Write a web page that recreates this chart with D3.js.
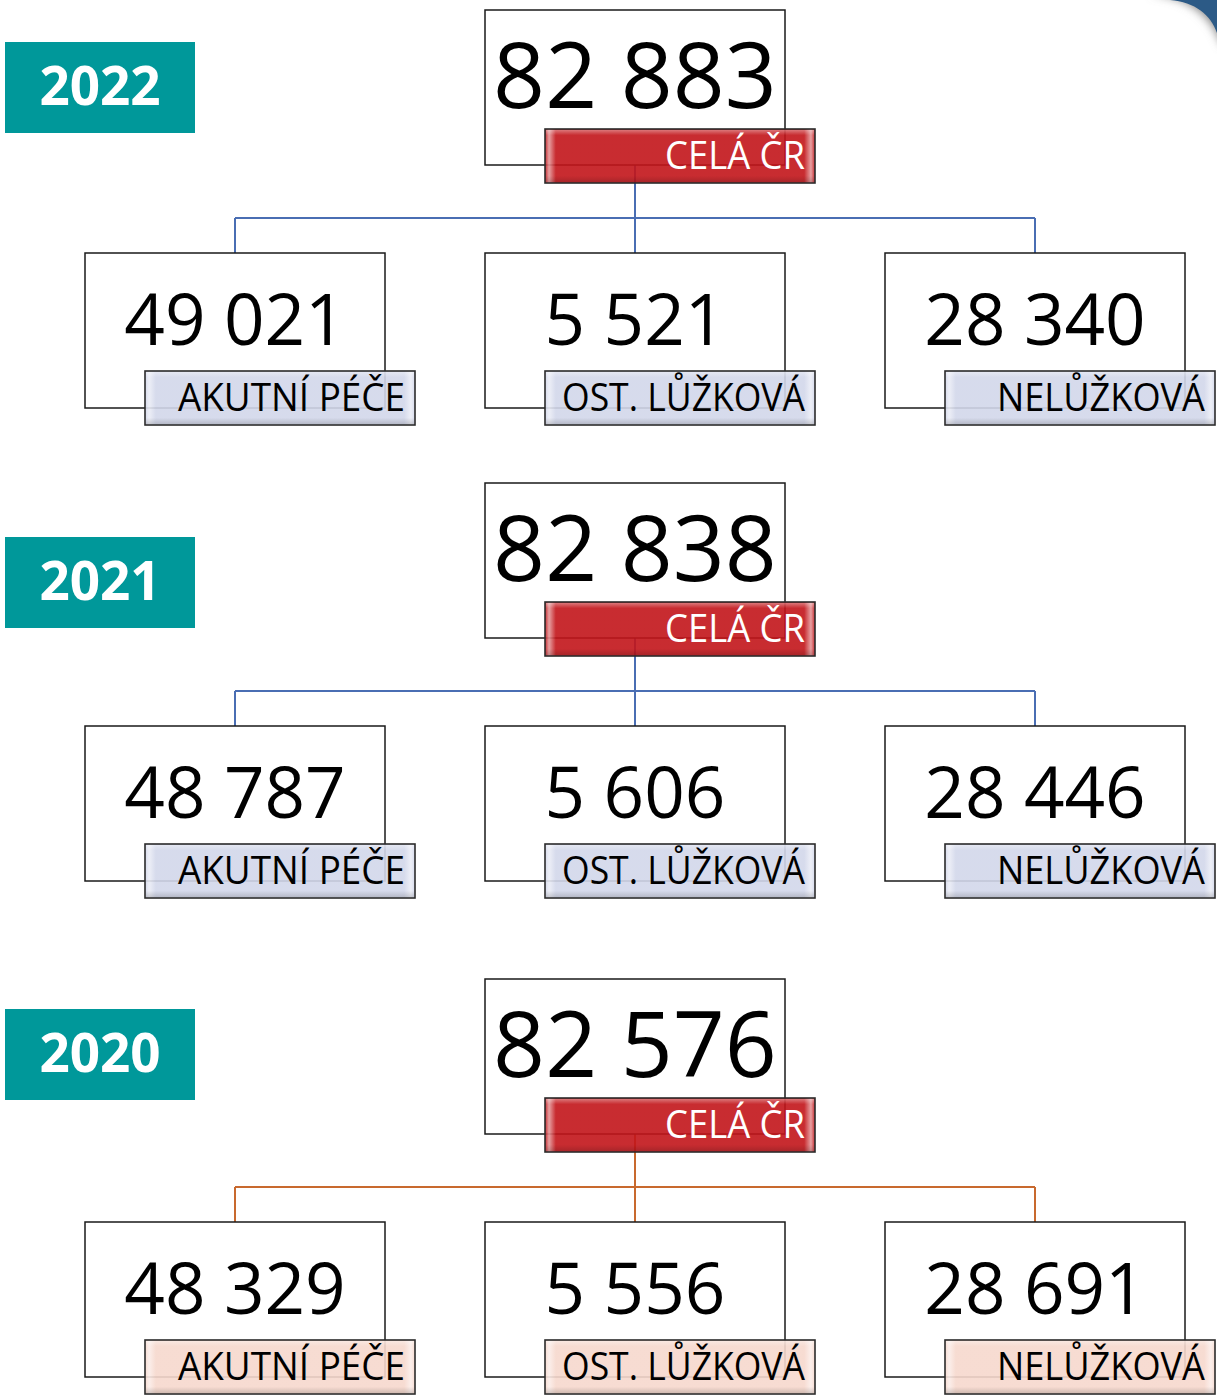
<!DOCTYPE html>
<html>
<head>
<meta charset="utf-8">
<script src="https://cdn.jsdelivr.net/npm/d3@7"></script>
<style>
  body { margin: 0; background: #ffffff; }
  svg { display: block; }
</style>
</head>
<body>
<div id="chart"></div>
<script>
// data
var years = ["2022", "2021", "2020"];
var totals = [82883, 82838, 82576];
var acuteCare = [49021, 48787, 48329];
var otherBeds = [5521, 5606, 5556];
var nonBeds = [28340, 28446, 28691];
var categories = ["AKUTNÍ PÉČE", "OST. LŮŽKOVÁ", "NELŮŽKOVÁ"];
var totalLabel = "CELÁ ČR";

// layout
var width = 1217, height = 1397;
var rowTop = [10, 483, 979];
var yearTop = [42, 537, 1009];
var boxW = 300, boxH = 155, labW = 270, labH = 54;
var lineColors = ["#4a6eb3", "#4a6eb3", "#c8692e"];
var labelColors = ["#d2d7ea", "#d2d7ea", "#f6d8cd"];
var labelWidths = [227, 243, 208];

var cz = d3.formatLocale({decimal: ",", thousands: "\u00a0", grouping: [3], currency: ["", " Kč"]});
var fmt = cz.format(",d");

var x = d3.scalePoint().domain(categories).range([235, 1035]);
var xTop = 635;

var svg = d3.select("#chart").append("svg")
    .attr("width", width)
    .attr("height", height)
    .style("font-family", "'Open Sans', 'Noto Sans', sans-serif");

var defs = svg.append("defs");
defs.append("filter").attr("id", "blur")
    .attr("x", "-50%").attr("y", "-50%").attr("width", "200%").attr("height", "200%")
    .append("feGaussianBlur").attr("stdDeviation", 5);

function bevelGradient(id, base) {
    var light = d3.interpolateRgb(base, "#ffffff")(0.55);
    var g = defs.append("linearGradient").attr("id", id);
    g.append("stop").attr("offset", "0%").attr("stop-color", base);
    g.append("stop").attr("offset", "1.5%").attr("stop-color", light);
    g.append("stop").attr("offset", "4%").attr("stop-color", base);
    g.append("stop").attr("offset", "96%").attr("stop-color", base);
    g.append("stop").attr("offset", "98.5%").attr("stop-color", light);
    g.append("stop").attr("offset", "100%").attr("stop-color", base);
    return "url(#" + id + ")";
}
var shine = defs.append("linearGradient").attr("id", "shine")
    .attr("x1", 0).attr("y1", 0).attr("x2", 0).attr("y2", 1);
shine.append("stop").attr("offset", "0%").attr("stop-color", "#ffffff").attr("stop-opacity", 0.35);
shine.append("stop").attr("offset", "10%").attr("stop-color", "#ffffff").attr("stop-opacity", 0);
shine.append("stop").attr("offset", "88%").attr("stop-color", "#000000").attr("stop-opacity", 0);
shine.append("stop").attr("offset", "100%").attr("stop-color", "#000000").attr("stop-opacity", 0.15);

var redFill = bevelGradient("bevelRed", "#c2151a");
var childFills = labelColors.map(function(c, i) { return bevelGradient("bevelChild" + i, c); });

// corner of the slide frame, top right
svg.append("path")
    .attr("d", "M1150,-6 C1185,-4 1210,12 1222,45 L1240,45 L1240,-20 Z")
    .attr("fill", "#888888")
    .attr("filter", "url(#blur)");
svg.append("path")
    .attr("d", "M1170,0 C1195,2 1211,15 1217,33 L1217,0 Z")
    .attr("fill", "#2c5a86");

function drawLabel(g, lx, ly, text, fill, textColor, textW) {
    g.append("rect")
        .attr("x", lx).attr("y", ly)
        .attr("width", labW).attr("height", labH)
        .attr("fill", fill)
        .attr("fill-opacity", 0.9)
        .attr("stroke", "#2b2b2b")
        .attr("stroke-width", 1.6);
    g.append("rect")
        .attr("x", lx + 1).attr("y", ly + 1)
        .attr("width", labW - 2).attr("height", labH - 2)
        .attr("fill", "url(#shine)");
    g.append("text")
        .attr("x", lx + labW - 10)
        .attr("y", ly + 40)
        .attr("text-anchor", "end")
        .attr("font-size", 38)
        .attr("fill", textColor)
        .attr("textLength", textW)
        .attr("lengthAdjust", "spacingAndGlyphs")
        .text(text);
}

years.forEach(function(year, r) {
    var T = rowTop[r];
    var g = svg.append("g");
    var children = [acuteCare[r], otherBeds[r], nonBeds[r]];

    // year badge
    g.append("rect")
        .attr("x", 5).attr("y", yearTop[r])
        .attr("width", 190).attr("height", 91)
        .attr("fill", "#00989a");
    g.append("text")
        .attr("x", 100).attr("y", yearTop[r] + 63)
        .attr("text-anchor", "middle")
        .attr("font-size", 53)
        .attr("font-weight", "bold")
        .attr("fill", "#ffffff")
        .text(year);

    // connectors
    var lineY = T + 208;
    g.append("line")
        .attr("x1", xTop).attr("x2", xTop)
        .attr("y1", T + boxH).attr("y2", T + 243)
        .attr("stroke", lineColors[r]).attr("stroke-width", 2);
    g.append("line")
        .attr("x1", x(categories[0])).attr("x2", x(categories[2]))
        .attr("y1", lineY).attr("y2", lineY)
        .attr("stroke", lineColors[r]).attr("stroke-width", 2);
    g.selectAll("line.drop")
        .data(categories)
        .enter()
        .append("line")
        .attr("class", "drop")
        .attr("x1", function(d) { return x(d); })
        .attr("x2", function(d) { return x(d); })
        .attr("y1", lineY).attr("y2", T + 243)
        .attr("stroke", lineColors[r]).attr("stroke-width", 2);

    // total box
    g.append("rect")
        .attr("x", xTop - boxW / 2).attr("y", T)
        .attr("width", boxW).attr("height", boxH)
        .attr("fill", "#ffffff")
        .attr("stroke", "#1a1a1a").attr("stroke-width", 1.5);
    g.append("text")
        .attr("x", xTop).attr("y", T + 98)
        .attr("text-anchor", "middle")
        .attr("font-size", 91)
        .attr("fill", "#000000")
        .text(fmt(totals[r]));
    drawLabel(g, xTop - boxW / 2 + 60, T + 119, totalLabel, redFill, "#ffffff", 140);

    // category boxes
    var cg = g.selectAll("g.child")
        .data(categories)
        .enter()
        .append("g")
        .attr("class", "child");
    cg.append("rect")
        .attr("x", function(d) { return x(d) - boxW / 2; })
        .attr("y", T + 243)
        .attr("width", boxW).attr("height", boxH)
        .attr("fill", "#ffffff")
        .attr("stroke", "#1a1a1a").attr("stroke-width", 1.5);
    cg.append("text")
        .attr("x", function(d) { return x(d); })
        .attr("y", T + 243 + 92)
        .attr("text-anchor", "middle")
        .attr("font-size", 71)
        .attr("fill", "#000000")
        .text(function(d, i) { return fmt(children[i]); });
    cg.each(function(d, i) {
        drawLabel(d3.select(this), x(d) - boxW / 2 + 60, T + 361, d, childFills[r], "#000000", labelWidths[i]);
    });
});
</script>
</body>
</html>
